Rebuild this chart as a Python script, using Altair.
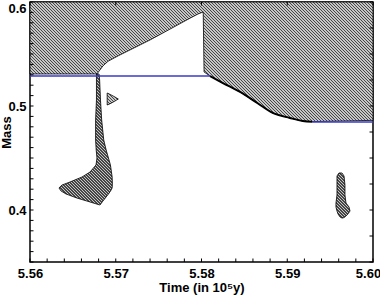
import math
import altair as alt
import pandas as pd

# ---------------- data ----------------
# upper convective (hatched) region: lower boundary, top is the axis top (0.6)
top_t = [5.5600, 5.5678, 5.5681, 5.5685, 5.5691, 5.5703, 5.5740, 5.5787, 5.5796,
         5.5802, 5.5803, 5.5810, 5.5825, 5.5845, 5.5865, 5.5883, 5.5903, 5.5918,
         5.5929, 5.6000]
top_m = [0.5308, 0.5308, 0.5340, 0.5385, 0.5430, 0.5483, 0.5635, 0.5846, 0.5885,
         0.5904, 0.5327, 0.5288, 0.5221, 0.5135, 0.5029, 0.4933, 0.4885, 0.4856,
         0.4850, 0.4862]
TOP = 0.6

# black boundary curve
core_t = [5.5810, 5.5825, 5.5845, 5.5865, 5.5883, 5.5903, 5.5918, 5.5929]
core_m = [0.5288, 0.5221, 0.5135, 0.5029, 0.4933, 0.4885, 0.4856, 0.4848]

# blue horizontal lines
blue_t0 = [5.5600, 5.5929]
blue_t1 = [5.5810, 5.6000]
blue_m = [0.5288, 0.4846]

# small triangular island
tri_t = [5.5690, 5.5693, 5.5697, 5.5701, 5.5703]
tri_hi = [0.5125, 0.5113, 0.5096, 0.5077, 0.5067]
tri_lo = [0.5010, 0.5020, 0.5038, 0.5057, 0.5067]

# stalk + blob (left)
stalk_m = [0.5308, 0.5250, 0.5058, 0.4865, 0.4673, 0.4577, 0.4500, 0.4433, 0.4365,
           0.4317, 0.4269, 0.4240, 0.4212, 0.4183, 0.4154, 0.4115, 0.4077, 0.4048]
stalk_l = [5.56775, 5.56775, 5.56775, 5.56765, 5.56765, 5.56772, 5.56781, 5.56770, 5.56700,
           5.56606, 5.56466, 5.56373, 5.56338, 5.56362, 5.56420, 5.56548, 5.56700, 5.56816]
stalk_r = [5.56805, 5.56812, 5.56822, 5.56836, 5.56860, 5.56888, 5.56915, 5.56938, 5.56950,
           5.56958, 5.56960, 5.56960, 5.56958, 5.56940, 5.56915, 5.56878, 5.56842, 5.56816]

# right island
rb_m = [0.4356, 0.4327, 0.4240, 0.4144, 0.4067, 0.4029, 0.3990, 0.3962, 0.3933, 0.3923]
rb_l = [5.59603, 5.59580, 5.59580, 5.59580, 5.59568, 5.59568, 5.59580, 5.59592, 5.59615, 5.59638]
rb_r = [5.59638, 5.59662, 5.59673, 5.59673, 5.59685, 5.59720, 5.59732, 5.59708, 5.59673, 5.59650]

x_major = [5.56, 5.57, 5.58, 5.59, 5.60]
x_minor = [round(5.56 + 0.002 * i, 3) for i in range(21)]
y_labels = [0.4, 0.5, 0.6]
y_left_ticks = [round(0.35 + 0.01 * i, 2) for i in range(26)]
y_right_ticks = [0.35, 0.375, 0.4, 0.425, 0.45, 0.475, 0.5, 0.525, 0.55, 0.575, 0.6]

# ---------------- styling ----------------
X_DOM = [5.56, 5.60]
Y_DOM = [0.35, 0.60]
PW, PH = 343, 260
sx = PW / (X_DOM[1] - X_DOM[0])
sy = PH / (Y_DOM[1] - Y_DOM[0])
FONT = "Liberation Sans"


def hatch(tvals, mvals, step=3.0, dark="#464646", light="#c6c6c6", frac=0.4):
    """Diagonal hatch ('\\' lines) built from a linear gradient with hard stops.
    step = horizontal pixel period of the hatch lines."""
    bw = max((max(tvals) - min(tvals)) * sx, 1.0)
    bh = max((max(mvals) - min(mvals)) * sy, 1.0)
    r = bh / bw
    n = int(math.ceil((bw + bh) / step))
    L = n * step
    a = L / (bw * (1 + r * r))
    stops = []
    for k in range(n):
        o0, o1, o2 = k / n, (k + frac) / n, (k + 1) / n
        stops += [{"offset": o0, "color": dark}, {"offset": o1, "color": dark},
                  {"offset": o1, "color": light}, {"offset": o2, "color": light}]
    return {"gradient": "linear", "x1": 0, "y1": 1, "x2": a, "y2": 1 - a * r, "stops": stops}


xs = alt.Scale(domain=X_DOM, nice=False, zero=False)
ys = alt.Scale(domain=Y_DOM, nice=False, zero=False)

x_axis = alt.Axis(values=x_major, format=".2f", ticks=False, domain=False, grid=False,
                  labelFont=FONT, labelFontWeight="bold", labelFontSize=13, labelColor="black",
                  labelPadding=5, labelFlush=False,
                  labelOffset={"condition": {"test": "datum.value > 5.599", "value": -5}, "value": 0},
                  titleFont=FONT, titleFontWeight="bold", titleFontSize=13, titleColor="black",
                  titleY=19)
y_axis = alt.Axis(values=y_labels, format=".1f", ticks=False, domain=False, grid=False,
                  labelFont=FONT, labelFontWeight="bold", labelFontSize=13, labelColor="black",
                  labelPadding=4, labelFlush=True,
                  titleFont=FONT, titleFontWeight="bold", titleFontSize=13, titleColor="black",
                  titleX=-17)

XT = "Time (in 10⁵y)"
YT = "Mass"


def X(f):
    return alt.X(f, type="quantitative", scale=xs, axis=x_axis, title=XT)


def Y(f):
    return alt.Y(f, type="quantitative", scale=ys, axis=y_axis, title=YT)


top_df = pd.DataFrame({"t": top_t, "lo": top_m, "hi": [TOP] * len(top_t)})
top_area = alt.Chart(top_df).mark_area(
    fill=hatch(top_t, top_m + [TOP]), stroke="black", strokeWidth=0.8
).encode(x=X("t"), y=Y("hi"), y2="lo")

tri_df = pd.DataFrame({"t": tri_t, "hi": tri_hi, "lo": tri_lo})
tri = alt.Chart(tri_df).mark_area(
    fill=hatch(tri_t, tri_hi + tri_lo), stroke="black", strokeWidth=0.8
).encode(x=X("t"), y=Y("hi"), y2="lo")

st_df = pd.DataFrame({"m": stalk_m, "l": stalk_l, "r": stalk_r})
stalk = alt.Chart(st_df).mark_area(
    orient="horizontal", fill=hatch(stalk_l + stalk_r, stalk_m), stroke="black", strokeWidth=0.8
).encode(y=Y("m"), x=X("l"), x2="r")

rb_df = pd.DataFrame({"m": rb_m, "l": rb_l, "r": rb_r})
rb = alt.Chart(rb_df).mark_area(
    orient="horizontal", fill=hatch(rb_l + rb_r, rb_m), stroke="black", strokeWidth=0.8
).encode(y=Y("m"), x=X("l"), x2="r")

blue_df = pd.DataFrame({"t0": blue_t0, "t1": blue_t1, "m": blue_m})
blue = alt.Chart(blue_df).mark_rule(color="#3a3ac8", strokeWidth=1.4).encode(
    x=X("t0"), x2="t1", y=Y("m"))

core_df = pd.DataFrame({"t": core_t, "m": core_m})
core = alt.Chart(core_df).mark_line(color="black", strokeWidth=2, interpolate="monotone").encode(
    x=X("t"), y=Y("m"))

bt = pd.DataFrame({"v": x_minor})
tt = pd.DataFrame({"v": x_major})
lt = pd.DataFrame({"v": y_left_ticks})
rt = pd.DataFrame({"v": y_right_ticks})
tick_style = dict(color="black", strokeWidth=1)
ticks_b = alt.Chart(bt).mark_rule(**tick_style).encode(x=X("v"), y=alt.value(PH), y2=alt.value(PH - 3.5))
ticks_t = alt.Chart(tt).mark_rule(**tick_style).encode(x=X("v"), y=alt.value(0), y2=alt.value(3.5))
ticks_l = alt.Chart(lt).mark_rule(**tick_style).encode(y=Y("v"), x=alt.value(0), x2=alt.value(3.5))
ticks_r = alt.Chart(rt).mark_rule(**tick_style).encode(y=Y("v"), x=alt.value(PW), x2=alt.value(PW - 3.5))

chart = alt.layer(top_area, tri, stalk, rb, blue, core, ticks_b, ticks_t, ticks_l, ticks_r).properties(
    width=PW, height=PH,
    autosize=alt.AutoSizeParams(type="none"),
    padding={"left": 30, "top": 2, "right": 7, "bottom": 33},
    background="white",
).configure_view(stroke="black", strokeWidth=1.5)

chart.save("out.html", embed_options={"renderer": "svg", "actions": False})
